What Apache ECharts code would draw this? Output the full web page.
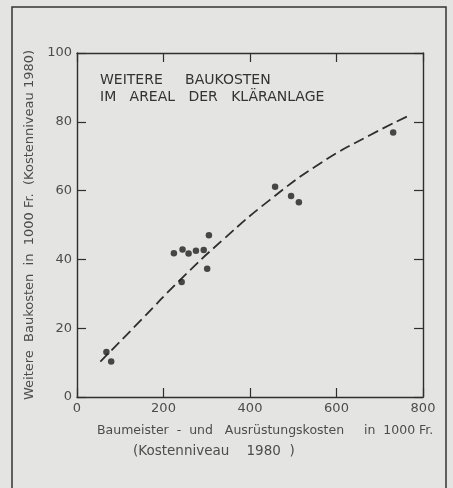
<!DOCTYPE html>
<html>
<head>
<meta charset="utf-8">
<script src="https://cdn.jsdelivr.net/npm/echarts@6/dist/echarts.min.js"></script>
<style>
  html, body { margin: 0; padding: 0; background: #e4e4e2; }
  #chart { width: 453px; height: 488px; }
</style>
</head>
<body>
<div id="chart"></div>
<script>
// measured points (Baumeister- und Ausrüstungskosten vs. weitere Baukosten, 1000 Fr.)
const pointsX = [68, 79, 224, 244, 242, 258, 275, 293, 301, 305, 458, 495, 513, 731];
const pointsY = [13.1, 10.3, 41.8, 42.9, 33.4, 41.7, 42.5, 42.7, 37.3, 47.0, 61.1, 58.4, 56.6, 76.9];
// fitted trend curve (dashed)
const curveX = [54, 150, 238, 340, 446, 562, 677, 768];
const curveY = [10.3, 22.6, 34.0, 46.0, 57.3, 67.9, 76.1, 81.8];
const xTicks = [0, 200, 400, 600, 800];
const yTicks = [0, 20, 40, 60, 80, 100];

const ink = '#2e2e2e';
const grey = '#4c4c4c';
const font = 'DejaVu Sans';
const zip = (a, b) => a.map((v, i) => [v, b[i]]);

const chart = echarts.init(document.getElementById('chart'));
const axisBase = {
  axisLine: { show: true, onZero: false, lineStyle: { color: ink, width: 1.4 } },
  axisTick: { show: true, inside: true, length: 9, lineStyle: { color: ink, width: 1.2 } },
  splitLine: { show: false }
};
chart.setOption({
  backgroundColor: '#e4e4e2',
  animation: false,
  grid: { left: 77, right: 30, top: 53, bottom: 91 },
  xAxis: [
    { ...axisBase, type: 'value', min: xTicks[0], max: xTicks[xTicks.length - 1], interval: 200,
      axisLabel: { color: grey, fontFamily: font, fontSize: 13, margin: 5 } },
    { ...axisBase, type: 'value', position: 'top', min: 0, max: 800, interval: 200,
      axisLabel: { show: false } }
  ],
  yAxis: [
    { ...axisBase, type: 'value', min: yTicks[0], max: yTicks[yTicks.length - 1], interval: 20,
      axisLabel: { color: grey, fontFamily: font, fontSize: 13, margin: 5 },
      name: 'Weitere  Baukosten  in  1000 Fr.  (Kostenniveau 1980)',
      nameLocation: 'middle', nameGap: 39, nameRotate: 90,
      nameTextStyle: { color: grey, fontFamily: font, fontSize: 13 } },
    { ...axisBase, type: 'value', position: 'right', min: 0, max: 100, interval: 20,
      axisLabel: { show: false } }
  ],
  series: [
    { type: 'line', data: zip(curveX, curveY), smooth: true, symbol: 'none',
      lineStyle: { color: ink, width: 1.8, type: [11, 5] }, z: 2 },
    { type: 'scatter', data: zip(pointsX, pointsY), symbolSize: 6.5,
      itemStyle: { color: '#1e1e1e' }, z: 3 }
  ],
  graphic: [
    { type: 'rect', shape: { x: 12, y: 7, width: 434, height: 500 },
      style: { fill: 'none', stroke: '#333', lineWidth: 1.5 }, silent: true },
    { type: 'text', left: 100, top: 72,
      style: { text: 'WEITERE     BAUKOSTEN\nIM   AREAL   DER   KLÄRANLAGE', fill: '#333',
        fontFamily: font, fontSize: 14, lineHeight: 17 } },
    { type: 'text', left: 97, top: 424,
      style: { text: 'Baumeister  -  und   Ausrüstungskosten     in  1000 Fr.', fill: grey,
        fontFamily: font, fontSize: 12.5 } },
    { type: 'text', left: 133, top: 444,
      style: { text: '(Kostenniveau    1980  )', fill: grey, fontFamily: font, fontSize: 13.5 } }
  ]
});
</script>
</body>
</html>
